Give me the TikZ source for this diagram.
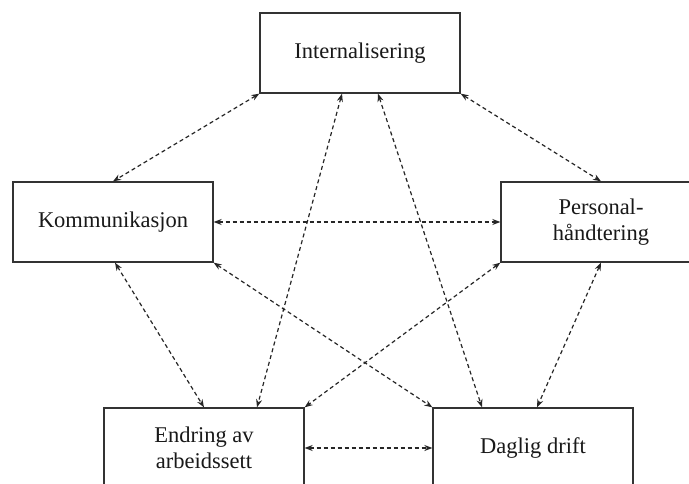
\documentclass[tikz,border=0pt]{standalone}
\usepackage{fontspec}
\setmainfont{Liberation Serif}
\usetikzlibrary{arrows.meta}
\begin{document}
\begin{tikzpicture}[x=1pt,y=-1pt,
  box/.style={draw=black!80, line width=1.3pt, minimum width=200pt, minimum height=80pt,
    inner sep=0pt, align=center, text=black!90, font=\fontsize{22.5}{26}\selectfont},
  link/.style={draw=black!85, line width=1.2pt, dash pattern=on 4pt off 3pt,
    {Stealth[length=8pt,width=6pt]}-{Stealth[length=8pt,width=6pt]}}]
\clip (0,0) rectangle (689,484);
\fill[white] (0,0) rectangle (689,484);
% boxes
\node[box] (int) at (360,53) {Internalisering};
\node[box] (kom) at (113,222) {Kommunikasjon};
\node[box] (per) at (601,222) {Personal-\\håndtering};
\node[box] (end) at (204,448) {Endring av\\arbeidssett};
\node[box] (dag) at (533,448) {Daglig drift};
% two-way links
\draw[link] (int.south west) -- (kom.north);
\draw[link] (int.south east) -- (per.north);
\draw[link] (kom.east) -- (per.west);
\draw[link] ([xshift=2pt]kom.south) -- (end.north);
\draw[link] ([xshift=-18pt]int.south) -- ([xshift=53pt]end.north);
\draw[link] ([xshift=18pt]int.south) -- ([xshift=-51pt]dag.north);
\draw[link] (per.south) -- ([xshift=4pt]dag.north);
\draw[link] (kom.south east) -- (dag.north west);
\draw[link] (per.south west) -- (end.north east);
\draw[link] (end.east) -- (dag.west);
\end{tikzpicture}
\end{document}
